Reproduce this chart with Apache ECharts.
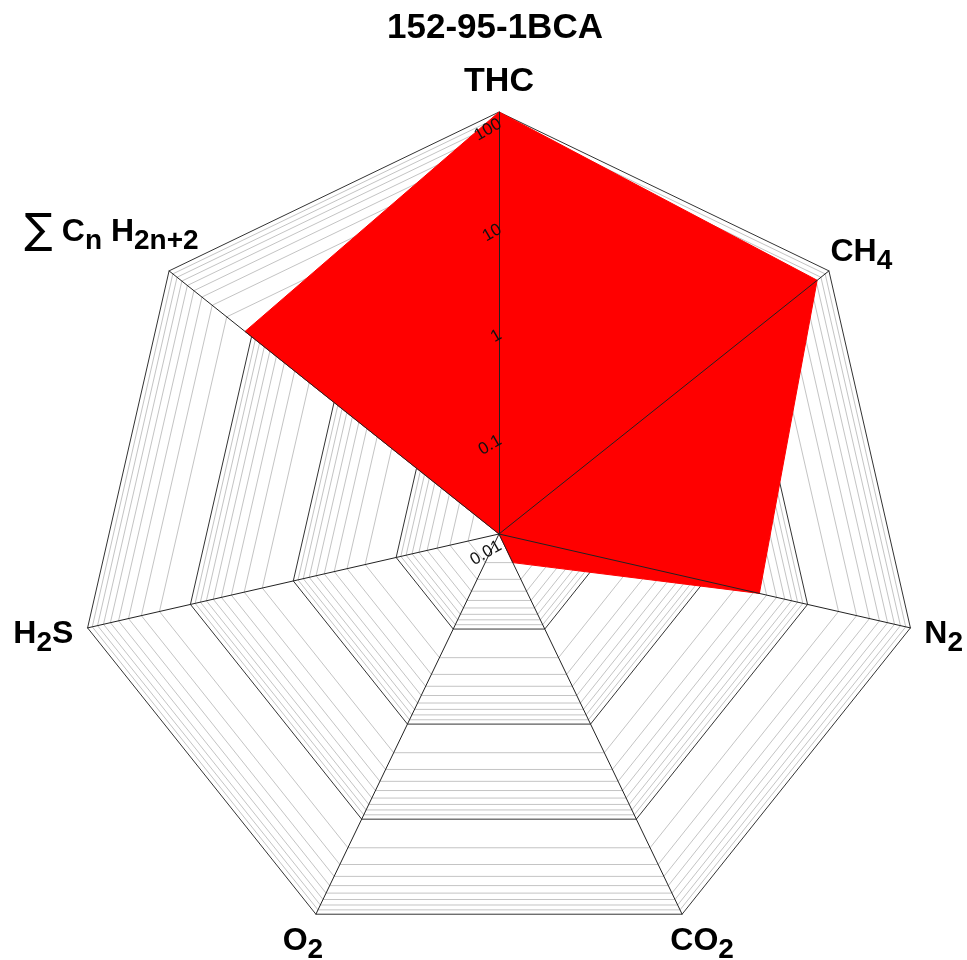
<!DOCTYPE html>
<html>
<head>
<meta charset="utf-8">
<script src="https://cdn.jsdelivr.net/npm/echarts@6/dist/echarts.min.js"></script>
<style>
html, body { margin: 0; padding: 0; background: #fff; }
#main { width: 967px; height: 960px; }
</style>
</head>
<body>
<div id="main"></div>
<script>
var chartTitle = '152-95-1BCA';
// radar goes counter-clockwise from the top
var gasNames = ['THC', 'SCnH2n+2', 'H2S', 'O2', 'CO2', 'N2', 'CH4'];
var gasLabels = [
  '{big|THC}',
  '{sig|∑} C{s|n} H{s|2n+2}{sp68| }\n{gap| }',
  'H{s|2}S{sp30| }',
  'O{s|2}',
  '{sp14| }CO{s|2}',
  '{sp8| }N{s|2}',
  '{sp18| }CH{s|4}'
];
var gasValues = [100, 12, 0.01, 0.01, 0.02, 3.4, 72];
var tickLabels = ['0.01', '0.1', '1', '10', '100'];
var minorSteps = [2, 3, 4, 5, 6, 7, 8, 9];

var logMin = 0.01;
function toLog(v) {
  return Math.log10(v) - Math.log10(logMin);
}

var chart = echarts.init(document.getElementById('main'));

var decades = tickLabels.length - 1;
var indicators = gasNames.map(function (n) {
  return { name: n, min: 0, max: decades };
});
// overlay radar: only THC gets the tick labels
var overlayIndicators = gasNames.map(function (n, i) {
  var ind = { name: n, min: 0, max: decades };
  if (i === 0) ind.axisLabel = { show: true };
  return ind;
});

// minor log grid lines drawn as constant-value rings
var minorRings = [];
for (var d = 0; d < decades; d++) {
  minorSteps.forEach(function (k) {
    var g = d + Math.log10(k);
    minorRings.push({ value: gasNames.map(function () { return g; }) });
  });
}

function spacer(w) {
  return { width: w, fontSize: 10 };
}

var option = {
  backgroundColor: '#fff',
  animation: false,
  title: {
    text: chartTitle,
    left: 382,
    top: 6,
    textStyle: {
      color: '#000',
      fontSize: 35,
      fontWeight: 'bold',
      fontFamily: 'Liberation Sans'
    }
  },
  radar: [{
    center: [499, 534],
    radius: 422,
    startAngle: 90,
    splitNumber: decades,
    shape: 'polygon',
    z: 0,
    indicator: indicators,
    axisNameGap: 30,
    axisName: {
      color: '#000',
      fontSize: 32,
      lineHeight: 38,
      fontWeight: 'bold',
      fontFamily: 'Liberation Sans',
      align: 'center',
      verticalAlign: 'middle',
      formatter: function (name) {
        return gasLabels[gasNames.indexOf(name)];
      },
      rich: {
        big: {
          fontSize: 34,
          lineHeight: 38,
          fontWeight: 'bold',
          fontFamily: 'Liberation Sans',
          color: '#000'
        },
        s: {
          fontSize: 28,
          lineHeight: 30,
          padding: [18, 0, 0, 0],
          fontWeight: 'bold',
          fontFamily: 'Liberation Sans',
          color: '#000'
        },
        sig: {
          fontSize: 42,
          lineHeight: 40,
          fontWeight: 'normal',
          fontFamily: 'DejaVu Sans',
          color: '#000'
        },
        gap: { lineHeight: 40, fontSize: 10 },
        sp8: spacer(8),
        sp14: spacer(14),
        sp18: spacer(18),
        sp30: spacer(30),
        sp68: spacer(68)
      }
    },
    axisLine: { show: false },
    axisTick: { show: false },
    axisLabel: { show: false },
    splitLine: { lineStyle: { color: '#333', width: 1 } },
    splitArea: { show: false }
  }, {
    center: [499, 534],
    radius: 422,
    startAngle: 90,
    splitNumber: decades,
    shape: 'polygon',
    z: 5,
    indicator: overlayIndicators,
    axisName: { show: false },
    axisLine: { show: true, lineStyle: { color: '#222', width: 1 } },
    axisTick: { show: false },
    axisLabel: {
      show: false,
      rotate: 30,
      margin: 5,
      padding: [4, 0, 0, 0],
      align: 'right',
      verticalAlign: 'top',
      color: '#111',
      fontSize: 17,
      fontFamily: 'Liberation Sans',
      formatter: function (v) {
        return tickLabels[Math.round(v)];
      }
    },
    splitLine: { show: false },
    splitArea: { show: false }
  }],
  series: [{
    name: 'grid',
    type: 'radar',
    radarIndex: 0,
    silent: true,
    symbol: 'none',
    lineStyle: { color: '#c4c4c4', width: 1 },
    data: minorRings
  }, {
    name: chartTitle,
    type: 'radar',
    radarIndex: 0,
    symbol: 'none',
    lineStyle: { color: '#ff0000', width: 1 },
    areaStyle: { color: '#ff0000', opacity: 1 },
    data: [{ value: gasValues.map(toLog) }]
  }]
};

chart.setOption(option);
</script>
</body>
</html>
